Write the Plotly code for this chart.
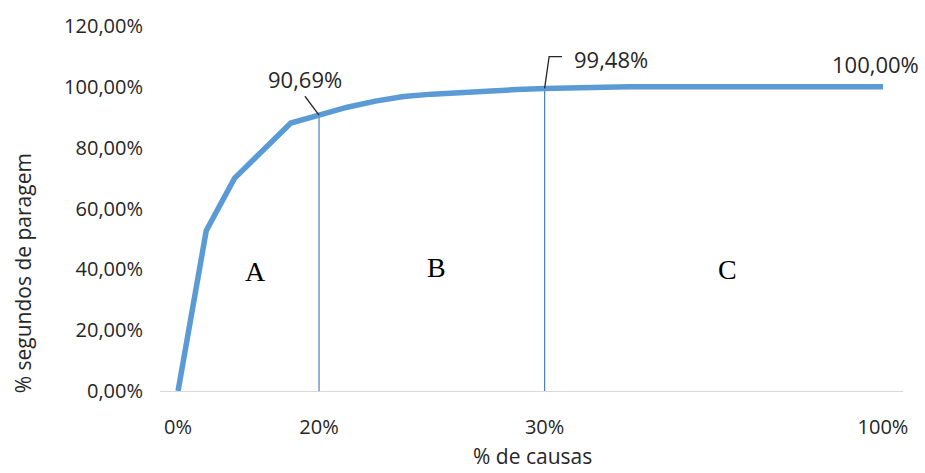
import plotly.graph_objects as go

# Cumulative share of stoppage seconds per cause (ordered Pareto), one point per cause
cum_pct = [0.0, 52.7, 69.9, 79.3, 88.1, 90.69, 93.3, 95.3, 96.8, 97.6, 98.2,
           98.7, 99.1, 99.48, 99.8, 99.95, 100.0, 100.0, 100.0, 100.0, 100.0,
           100.0, 100.0, 100.0, 100.0, 100.0]
cause_idx = list(range(len(cum_pct)))

# Labelled category positions on the x axis
tick_idx = [0, 5, 13, 25]
tick_text = ["0%", "20%", "30%", "100%"]

# ABC class boundaries (index of cause) and class labels
boundary_idx = [5, 13]
class_names = ["A", "B", "C"]
class_x = [2.73, 9.18, 19.47]
class_y = [39.3, 40.7, 40.0]

y_ticks = [0, 20, 40, 60, 80, 100, 120]
y_text = ["0,00%", "20,00%", "40,00%", "60,00%", "80,00%", "100,00%", "120,00%"]

FONT = "Open Sans"
TXT = "#262626"
AX_SIZE = 20
TITLE_SIZE = 21
LBL_SIZE = 22

# plot area in pixels, used to place the axis titles
L, R, T, B = 160, 903, 22, 391

fig = go.Figure()

# Boundary lines from the axis up to the curve
for b in boundary_idx:
    fig.add_trace(go.Scatter(x=[b, b], y=[0, cum_pct[b]], mode="lines",
                             line=dict(color="#4a7fc1", width=1.2),
                             hoverinfo="skip", showlegend=False))

fig.add_trace(go.Scatter(x=cause_idx, y=cum_pct, mode="lines",
                         line=dict(color="#5b9bd5", width=5.5),
                         showlegend=False))


def pct(v):
    return f"{v:.2f}%".replace(".", ",")


def lbl(x, y, text, xanchor="center"):
    return dict(x=x, y=y, xref="x", yref="y", text=text, showarrow=False,
                xanchor=xanchor, yanchor="middle",
                font=dict(family=FONT, size=LBL_SIZE, color=TXT))


annotations = [
    lbl(4.5, 102.6, pct(cum_pct[5])),
    lbl(13.97, 109.2, pct(cum_pct[13]), xanchor="left"),
    lbl(24.75, 107.6, pct(cum_pct[25])),
    dict(x=(532 - L) / (R - L), y=(B - 457) / (B - T), xref="paper", yref="paper",
         text="% de causas", showarrow=False, xanchor="center", yanchor="middle",
         font=dict(family=FONT, size=TITLE_SIZE, color=TXT)),
    dict(x=(23 - L) / (R - L), y=(B - 272) / (B - T), xref="paper", yref="paper",
         text="% segundos de paragem", showarrow=False, textangle=-90,
         xanchor="center", yanchor="middle",
         font=dict(family=FONT, size=TITLE_SIZE, color=TXT)),
]

for name, x, y in zip(class_names, class_x, class_y):
    annotations.append(dict(x=x, y=y, xref="x", yref="y", text=name,
                            showarrow=False,
                            font=dict(family="Liberation Serif", size=28,
                                      color="#000000")))

# leader lines for the boundary labels
shapes = [
    dict(type="line", xref="x", yref="y", x0=5, y0=cum_pct[5], x1=4.5, y1=96.9,
         line=dict(color="#262626", width=1.3)),
    dict(type="path", xref="x", yref="y",
         path=f"M 13,{cum_pct[13]} L 13.16,109.9 L 13.62,109.9",
         line=dict(color="#262626", width=1.3)),
]

fig.update_layout(
    width=925, height=473,
    margin=dict(l=L, r=925 - R, t=T, b=473 - B),
    paper_bgcolor="white", plot_bgcolor="white",
    annotations=annotations, shapes=shapes,
    xaxis=dict(range=[-0.64, 25.71], tickmode="array", tickvals=tick_idx,
               ticktext=tick_text, showgrid=False, zeroline=False,
               showline=True, linecolor="#d9d9d9", linewidth=1.3,
               ticks="", ticklabelstandoff=18,
               tickfont=dict(family=FONT, size=AX_SIZE, color=TXT)),
    yaxis=dict(range=[0, 120], tickmode="array", tickvals=y_ticks,
               ticktext=y_text, showgrid=False, zeroline=False,
               showline=False, ticks="", ticklabelstandoff=16,
               tickfont=dict(family=FONT, size=AX_SIZE, color=TXT)),
)

fig.write_html("out.html")
